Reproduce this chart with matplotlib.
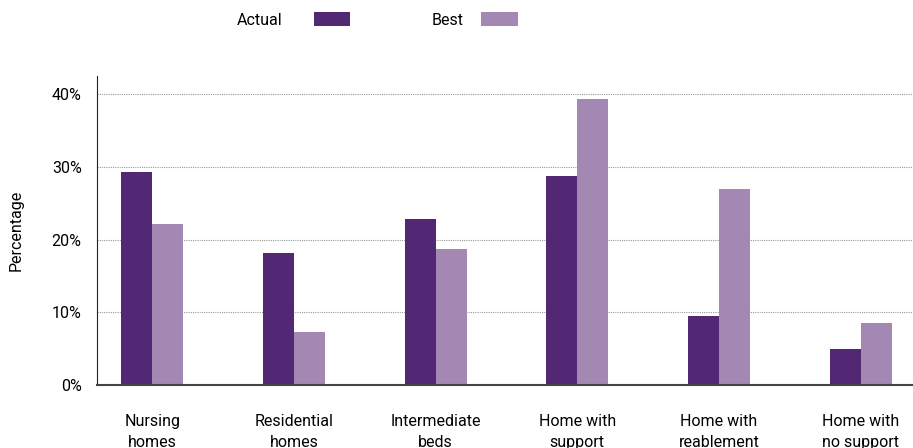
import numpy as np
import matplotlib.pyplot as plt
from matplotlib.ticker import PercentFormatter

plt.rcParams['font.family'] = ['Roboto', 'DejaVu Sans']

categories = ['Nursing\nhomes', 'Residential\nhomes', 'Intermediate\nbeds',
              'Home with\nsupport', 'Home with\nreablement', 'Home with\nno support']
actual = [29.3, 18.1, 22.8, 28.7, 9.5, 4.9]
best = [22.1, 7.3, 18.7, 39.3, 26.9, 8.5]

dark = '#522773'
light = '#a388b4'
fs = 11.5

fig = plt.figure(figsize=(9.13, 4.48), dpi=100)
ax = fig.add_axes([97 / 913, 63 / 448, 816 / 913, 309 / 448])

x = np.arange(len(categories))
w = 0.219
b1 = ax.bar(x - w / 2, actual, w, color=dark, label='Actual')
b2 = ax.bar(x + w / 2, best, w, color=light, label='Best')

ax.set_xlim(-0.39, 5.37)
ax.set_ylim(0, 42.5)
ax.set_yticks([0, 10, 20, 30, 40])
ax.yaxis.set_major_formatter(PercentFormatter(decimals=0))
ax.set_xticks(x)
ax.set_xticklabels(categories, linespacing=1.45)
ax.tick_params(axis='x', length=0, pad=21, labelsize=fs)
ax.tick_params(axis='y', length=0, pad=11, labelsize=fs)

ax.grid(axis='y', color='#999999', linestyle=(0, (1, 1)), linewidth=0.8)
ax.set_axisbelow(True)
for s in ['top', 'right']:
    ax.spines[s].set_visible(False)
ax.spines['left'].set_color('#222222')
ax.spines['bottom'].set_color('#444444')
ax.spines['bottom'].set_linewidth(1.5)

ax.set_ylabel('Percentage', fontsize=fs)
ax.yaxis.set_label_coords(-73 / 816, 0.5)

# legend: text first, then swatch; two separate entries
common = dict(loc='center left', frameon=False, markerfirst=False, fontsize=fs,
              handlelength=2.3, handleheight=1.0, borderpad=0, borderaxespad=0)
leg1 = fig.legend(handles=[b1], labels=['Actual'], handletextpad=1.94,
                  bbox_to_anchor=(237 / 913, 1 - 20 / 448), **common)
leg2 = fig.legend(handles=[b2], labels=['Best'], handletextpad=1.06,
                  bbox_to_anchor=(432 / 913, 1 - 20 / 448), **common)

fig.savefig('out.png', dpi=100)
